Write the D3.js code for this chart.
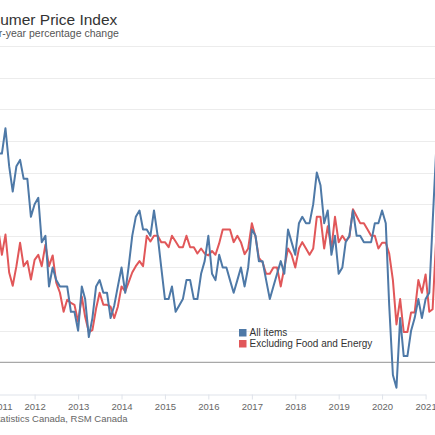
<!DOCTYPE html>
<html>
<head>
<meta charset="utf-8">
<script src="https://cdn.jsdelivr.net/npm/d3@7"></script>
<style>
  body { margin: 0; background: #fff; }
  svg { display: block; font-family: "Liberation Sans", Arial, sans-serif; }
</style>
</head>
<body>
<svg id="chart" width="435" height="435"></svg>
<script>
// monthly series, first value is March 2011
const startMonth = new Date(2011, 2, 1);

// All items, y/y %
const allItems = [
  3.3, 3.3, 3.7, 3.1, 2.7, 3.1, 3.2, 2.9, 2.9, 2.3,
  2.5, 2.6, 1.9, 2.0, 1.2, 1.5, 1.3, 1.2, 1.2, 1.2, 0.8, 0.8,
  0.5, 1.2, 1.0, 0.4, 0.7, 1.2, 1.3, 1.1, 1.1, 0.7, 0.9, 1.2,
  1.5, 1.1, 1.5, 2.0, 2.3, 2.4, 2.1, 2.1, 2.0, 2.4, 2.0, 1.5,
  1.0, 1.0, 1.2, 0.8, 0.9, 1.0, 1.3, 1.3, 1.0, 1.0, 1.4, 1.6,
  2.0, 1.4, 1.3, 1.7, 1.5, 1.5, 1.3, 1.1, 1.3, 1.5, 1.2, 1.5,
  2.1, 2.0, 1.6, 1.6, 1.3, 1.0, 1.2, 1.4, 1.6, 1.4, 2.1, 1.9,
  1.7, 2.2, 2.3, 2.2, 2.2, 2.5, 3.0, 2.8, 2.2, 2.4, 1.7, 2.0,
  1.4, 1.5, 1.9, 2.0, 2.4, 2.0, 2.0, 1.9, 1.9, 1.9, 2.2, 2.2,
  2.4, 2.2, 0.9, -0.2, -0.4, 0.7, 0.1, 0.1, 0.5, 0.7, 1.0, 0.7,
  1.0, 1.1, 2.2, 3.4
];

// Excluding food and energy, y/y %
const exFoodEnergy = [
  2.1, 1.7, 2.02, 1.42, 1.21, 1.52, 1.89, 1.52, 1.6, 1.31,
  1.62, 1.7, 1.52, 1.86, 1.52, 1.69, 1.26, 1.1, 0.8, 0.99, 0.94, 0.91,
  0.64, 1.04, 0.72, 0.48, 0.51, 0.85, 1.1, 0.91, 0.91, 0.88, 0.7, 0.88,
  1.2, 1.12, 1.26, 1.42, 1.52, 1.6, 1.52, 2.0, 1.91, 2.0, 2.0, 1.9,
  1.9, 1.82, 2.0, 1.91, 1.82, 1.82, 2.0, 1.82, 1.82, 1.72, 1.8, 1.72,
  1.69, 1.76, 1.7, 1.88, 2.1, 2.1, 2.1, 1.9, 2.0, 1.9, 1.71, 1.8,
  2.2, 1.98, 1.65, 1.58, 1.4, 1.4, 1.5, 1.5, 1.2, 1.5, 1.8, 1.7,
  1.5, 1.8, 1.9, 1.8, 1.7, 1.8, 2.3, 2.3, 1.8, 2.15, 1.8, 2.3,
  1.9, 2.0, 1.92, 1.98, 2.42, 2.31, 2.2, 2.2, 2.1, 2.0, 2.0, 1.8,
  1.89, 1.89, 1.72, 1.3, 0.6, 1.0, 0.48, 0.48, 0.79, 0.79, 1.3, 1.1,
  1.39, 0.8, 0.84, 2.0
];

const yearTicks = [2011, 2012, 2013, 2014, 2015, 2016, 2017, 2018, 2019, 2020, 2021];
const yTicks = [-0.5, 0, 0.5, 1, 1.5, 2, 2.5, 3, 3.5, 4, 4.5, 5];
const seriesNames = ["All items", "Excluding Food and Energy"];

const blue = d3.schemeTableau10[0];
const red = d3.schemeTableau10[2];

const svg = d3.select("#chart");

// plot area is wider than the window, the picture is cut at both sides
let x = d3.scaleTime()
    .domain([new Date(2011, 0, 1), new Date(2021, 0, 1)])
    .range([-8.8, 425.6]);
let y = d3.scaleLinear()
    .domain([-0.5, 5])
    .range([394, 46]);

// grid lines
svg.append("g")
   .selectAll("line")
   .data(yTicks.filter(d => d !== -0.5 && d !== 0))
   .join("line")
   .attr("x1", 0).attr("x2", 435)
   .attr("y1", d => Math.round(y(d)) + 0.5)
   .attr("y2", d => Math.round(y(d)) + 0.5)
   .attr("stroke", "#ececec");

// x axis
let xAxis = svg.append("g")
    .attr("transform", `translate(0,${Math.round(y(-0.5)) + 0.5})`)
    .call(d3.axisBottom(x)
        .tickValues(yearTicks.map(yr => new Date(yr, 0, 1)))
        .tickFormat(d3.timeFormat("%Y"))
        .tickSize(5)
        .tickSizeOuter(0));
xAxis.select(".domain").attr("stroke", "#dfe3ea");
xAxis.selectAll(".tick line").attr("stroke", "#dfe3ea");
xAxis.selectAll(".tick text")
     .attr("fill", "#666")
     .attr("font-size", "9.5px")
     .attr("y", 9);
// first label is pushed inside like the original chart does
xAxis.selectAll(".tick text").filter((d, i) => i === 0).attr("dx", 10.5);
xAxis.selectAll(".tick").filter((d, i) => i === 0).select("line").remove();

// zero line
svg.append("line")
   .attr("x1", 0).attr("x2", 435)
   .attr("y1", y(0)).attr("y2", y(0))
   .attr("stroke", "#a8a8a8")
   .attr("stroke-width", 1.2);

// build monthly rows
function toRows(values) {
    return values.map((v, i) => ({ date: d3.timeMonth.offset(startMonth, i), value: v }));
}

let line = d3.line()
    .x(d => x(d.date))
    .y(d => y(d.value));

[[exFoodEnergy, red], [allItems, blue]].forEach(([vals, col]) => {
    svg.append("path")
       .datum(toRows(vals))
       .attr("d", line)
       .attr("fill", "none")
       .attr("stroke", col)
       .attr("stroke-width", 2)
       .attr("stroke-linejoin", "round");
});

// legend
let legend = svg.append("g").attr("transform", "translate(239,329)");
seriesNames.forEach((name, i) => {
    let item = legend.append("g").attr("transform", `translate(0,${i * 11})`);
    item.append("rect")
        .attr("width", 7.5).attr("height", 7.5)
        .attr("fill", i === 0 ? blue : red);
    item.append("text")
        .attr("x", 10.5).attr("y", 7.3)
        .attr("font-size", "10px")
        .attr("fill", "#333")
        .text(name);
});

// titles and source
svg.append("text")
   .attr("x", -36).attr("y", 24.5)
   .attr("font-size", "15.5px")
   .attr("fill", "#333")
   .text("Consumer Price Index");
svg.append("text")
   .attr("x", -43).attr("y", 37)
   .attr("font-size", "10.5px")
   .attr("fill", "#555")
   .text("Year-over-year percentage change");
svg.append("text")
   .attr("x", -44).attr("y", 421.5)
   .attr("font-size", "9.5px")
   .attr("fill", "#666")
   .text("Source: Statistics Canada, RSM Canada");
</script>
</body>
</html>
